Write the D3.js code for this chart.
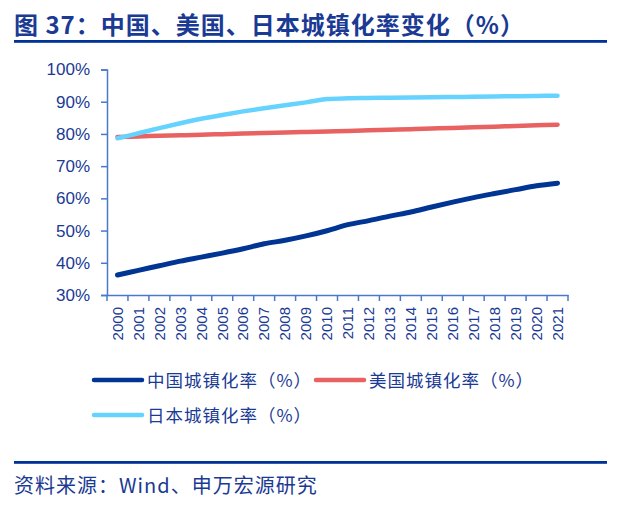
<!DOCTYPE html>
<html><head><meta charset="utf-8">
<script src="https://cdn.jsdelivr.net/npm/d3@7"></script>
<style>
html,body{margin:0;padding:0;background:#fff;}
svg{display:block;font-family:"Noto Sans CJK SC","Noto Sans",sans-serif;}
</style></head>
<body><svg id="c" width="634" height="529"></svg>
<script>
const years = ["2000","2001","2002","2003","2004","2005","2006","2007","2008","2009","2010","2011","2012","2013","2014","2015","2016","2017","2018","2019","2020","2021"];
const china = [36.22,37.66,39.09,40.53,41.76,42.99,44.34,45.89,46.99,48.34,49.95,51.83,53.10,54.49,55.75,57.33,58.84,60.24,61.50,62.71,63.89,64.72];
const usa = [79.06,79.23,79.41,79.58,79.76,79.93,80.10,80.27,80.44,80.61,80.77,80.94,81.12,81.30,81.48,81.67,81.86,82.06,82.26,82.46,82.66,82.87];
const japan = [78.65,80.20,81.80,83.30,84.70,85.90,87.00,88.00,88.90,89.80,90.81,91.07,91.16,91.25,91.33,91.38,91.46,91.54,91.62,91.70,91.78,91.87];
const yTicks = [30,40,50,60,70,80,90,100];
const seriesNames = ["中国城镇化率（%）","美国城镇化率（%）","日本城镇化率（%）"];
const colors = ["#003594","#E86262","#66D3FF"];
const series = [china, usa, japan];

const svg = d3.select("#c");
const textColor = "#1A3A94";
const axisColor = "#4A78CC";

// title
svg.append("text").attr("x",14).attr("y",34).attr("font-size",24).attr("font-weight","bold")
  .attr("letter-spacing",1).attr("fill",textColor).text("图 37：中国、美国、日本城镇化率变化（%）");
svg.append("rect").attr("x",14).attr("y",40).attr("width",593).attr("height",2.8).attr("fill","#003399");

const x = d3.scaleBand().domain(years).range([107,568]);
const y = d3.scaleLinear().domain([30,100]).range([295,69.5]);

// y axis
const ya = svg.append("g").attr("transform","translate(107,0)")
  .call(d3.axisLeft(y).tickValues(yTicks).tickSize(6).tickPadding(11).tickFormat(d=>d+"%"));
ya.select(".domain").attr("stroke",axisColor).attr("stroke-width",1.5);
ya.selectAll(".tick line").attr("stroke",axisColor).attr("stroke-width",1.5);
ya.selectAll(".tick text").attr("fill",textColor).attr("font-size",17).attr("font-family","Liberation Sans, Arial, sans-serif");

// x axis
const xa = svg.append("g").attr("transform","translate(0,295)")
  .call(d3.axisBottom(x).tickSize(0).tickPadding(0));
xa.select(".domain").attr("stroke",axisColor).attr("stroke-width",1.5);
xa.selectAll(".tick line").remove();
const bounds = years.map(d=>x(d)).concat([x(years[years.length-1])+x.bandwidth()]);
xa.selectAll(".btick").data(bounds).enter().append("line")
  .attr("x1",d=>d).attr("x2",d=>d).attr("y1",0).attr("y2",6)
  .attr("stroke",axisColor).attr("stroke-width",1.5);
xa.selectAll(".tick text").attr("fill",textColor).attr("font-size",15)
  .attr("font-family","Liberation Sans, Arial, sans-serif")
  .attr("transform","translate(0,12) rotate(-90)")
  .attr("text-anchor","end").attr("dy","0.35em").attr("y",0).attr("x",0);

// lines
const line = d3.line().x((d,i)=>x(years[i])+x.bandwidth()/2).y(d=>y(d)).curve(d3.curveCatmullRom.alpha(0.5));
series.forEach((s,k)=>{
  svg.append("path").datum(s).attr("d",line).attr("fill","none")
    .attr("stroke",colors[k]).attr("stroke-width",k===0?5:4.5)
    .attr("stroke-linecap","round").attr("stroke-linejoin","round");
});

// legend
const leg = [{x:94,y:380},{x:316,y:380},{x:94,y:415}];
leg.forEach((p,k)=>{
  svg.append("line").attr("x1",p.x).attr("x2",p.x+48).attr("y1",p.y).attr("y2",p.y)
    .attr("stroke",colors[k]).attr("stroke-width",4.5).attr("stroke-linecap","round");
  svg.append("text").attr("x",p.x+53).attr("y",p.y+6.5).attr("font-size",17.5)
    .attr("letter-spacing",1).attr("fill",textColor).text(seriesNames[k]);
});

// footer
svg.append("rect").attr("x",14).attr("y",461).attr("width",593).attr("height",2.8).attr("fill","#003399");
svg.append("text").attr("x",14).attr("y",493).attr("font-size",20).attr("letter-spacing",1)
  .attr("fill",textColor).text("资料来源：Wind、申万宏源研究");
</script></body></html>
